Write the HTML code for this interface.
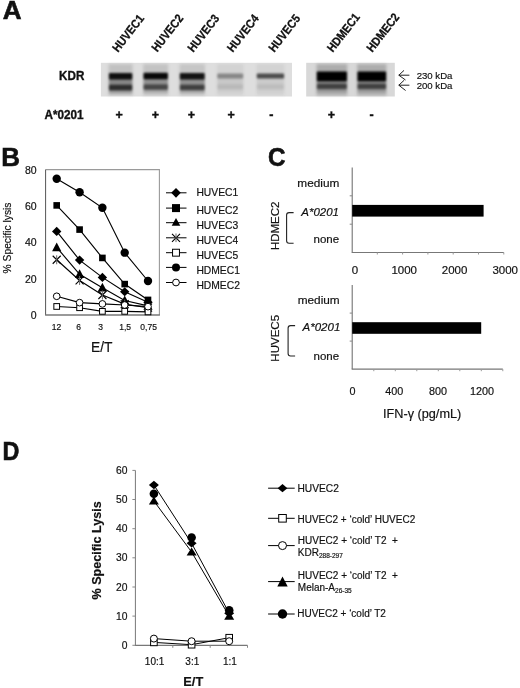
<!DOCTYPE html>
<html><head><meta charset="utf-8"><style>
html,body{margin:0;padding:0;background:#fff;width:520px;height:688px;overflow:hidden}
svg{display:block;filter:grayscale(100%)}
text{font-family:"Liberation Sans",sans-serif;fill:#111;stroke:#111;stroke-width:0.18px}
</style></head><body>
<svg width="520" height="688" viewBox="0 0 520 688">
<defs>
<filter id="bl" x="-5%" y="-10%" width="110%" height="120%"><feGaussianBlur stdDeviation="0.7"/></filter>
<filter id="bs" x="-20%" y="-20%" width="140%" height="140%"><feGaussianBlur stdDeviation="1.5"/></filter>
<filter id="bb" x="-20%" y="-80%" width="140%" height="260%"><feGaussianBlur stdDeviation="1.3 1.1"/></filter>
</defs>
<rect width="520" height="688" fill="#fff"/>
<text id="pA" x="2.8" y="18.75" font-size="26" font-weight="bold" style="stroke-width:0.6px">A</text>
<text id="pB" x="1.2" y="165.8" font-size="26" font-weight="bold" style="stroke-width:0.6px">B</text>
<text id="pC" x="267.9" y="165.5" font-size="26" font-weight="bold" textLength="17.5" lengthAdjust="spacingAndGlyphs" style="stroke-width:0.6px">C</text>
<text id="pD" x="2.6" y="459.9" font-size="26" font-weight="bold" textLength="16.9" lengthAdjust="spacingAndGlyphs" style="stroke-width:0.6px">D</text>
<text id="lHUVEC1" transform="translate(118.0,52.8) rotate(-52)" font-weight="bold" font-size="12" textLength="43.3" lengthAdjust="spacingAndGlyphs" style="stroke-width:0.3px">HUVEC1</text>
<text id="lHUVEC2" transform="translate(157.25,52.5) rotate(-52)" font-weight="bold" font-size="12" textLength="43.3" lengthAdjust="spacingAndGlyphs" style="stroke-width:0.3px">HUVEC2</text>
<text id="lHUVEC3" transform="translate(193.2,52.8) rotate(-52)" font-weight="bold" font-size="12" textLength="43.3" lengthAdjust="spacingAndGlyphs" style="stroke-width:0.3px">HUVEC3</text>
<text id="lHUVEC4" transform="translate(232.8,52.8) rotate(-52)" font-weight="bold" font-size="12" textLength="43.3" lengthAdjust="spacingAndGlyphs" style="stroke-width:0.3px">HUVEC4</text>
<text id="lHUVEC5" transform="translate(274.25,52.8) rotate(-52)" font-weight="bold" font-size="12" textLength="43.3" lengthAdjust="spacingAndGlyphs" style="stroke-width:0.3px">HUVEC5</text>
<text id="lHDMEC1" transform="translate(332.7,52.8) rotate(-52)" font-weight="bold" font-size="12" textLength="45" lengthAdjust="spacingAndGlyphs" style="stroke-width:0.3px">HDMEC1</text>
<text id="lHDMEC2" transform="translate(372.3,52.7) rotate(-52)" font-weight="bold" font-size="12" textLength="45" lengthAdjust="spacingAndGlyphs" style="stroke-width:0.3px">HDMEC2</text>
<text id="kdr" x="84.4" y="80" font-size="12.5" font-weight="bold" text-anchor="end" textLength="25.3" lengthAdjust="spacingAndGlyphs" style="stroke-width:0.35px">KDR</text>
<text id="a0201" x="83.6" y="118.65" font-size="12.5" font-weight="bold" text-anchor="end" textLength="39.2" lengthAdjust="spacingAndGlyphs" style="stroke-width:0.35px">A*0201</text>
<text id="pm0" x="119.2" y="119" font-weight="bold" font-size="12.5" text-anchor="middle" style="stroke-width:0.4px">+</text>
<text id="pm1" x="155.45" y="119" font-weight="bold" font-size="12.5" text-anchor="middle" style="stroke-width:0.4px">+</text>
<text id="pm2" x="191.5" y="119" font-weight="bold" font-size="12.5" text-anchor="middle" style="stroke-width:0.4px">+</text>
<text id="pm3" x="231.1" y="119" font-weight="bold" font-size="12.5" text-anchor="middle" style="stroke-width:0.4px">+</text>
<text id="pm4" x="271.3" y="119" font-weight="bold" font-size="12.5" text-anchor="middle" style="stroke-width:0.4px">-</text>
<text id="pm5" x="331.5" y="119" font-weight="bold" font-size="12.5" text-anchor="middle" style="stroke-width:0.4px">+</text>
<text id="pm6" x="371.5" y="119" font-weight="bold" font-size="12.5" text-anchor="middle" style="stroke-width:0.4px">-</text>
<g filter="url(#bl)">
<rect x="100.9" y="62.8" width="191.1" height="33.7" fill="#dedede"/>
<rect x="306.2" y="62.8" width="88.6" height="33.7" fill="#d8d8d8"/>
</g>
<g filter="url(#bs)">
<rect x="108.6" y="64" width="24.0" height="31.5" fill="#000" opacity="0.13"/>
<rect x="143.2" y="64" width="25.0" height="31.5" fill="#000" opacity="0.12"/>
<rect x="179.5" y="64" width="25.5" height="31.5" fill="#000" opacity="0.11"/>
<rect x="217.0" y="64" width="26.5" height="31.5" fill="#000" opacity="0.05"/>
<rect x="256.5" y="64" width="27.9" height="31.5" fill="#000" opacity="0.05"/>
<rect x="316.5" y="64" width="30.7" height="31.5" fill="#000" opacity="0.2"/>
<rect x="357.2" y="64" width="29.2" height="31.5" fill="#000" opacity="0.2"/>
</g>
<g filter="url(#bb)">
<rect x="108.89999999999999" y="73.0" width="23.4" height="6.6" rx="1" fill="#000" opacity="0.92"/>
<rect x="108.89999999999999" y="84.7" width="23.4" height="5.9" rx="1" fill="#000" opacity="0.76"/>
<rect x="108.89999999999999" y="79.1" width="23.4" height="6.1" fill="#000" opacity="0.30"/>
<rect x="108.89999999999999" y="90.1" width="23.4" height="3.5" fill="#000" opacity="0.17"/>
<rect x="143.5" y="72.8" width="24.4" height="6.4" rx="1" fill="#000" opacity="0.96"/>
<rect x="143.5" y="84.5" width="24.4" height="5.3" rx="1" fill="#000" opacity="0.64"/>
<rect x="143.5" y="78.7" width="24.4" height="6.3" fill="#000" opacity="0.26"/>
<rect x="143.5" y="89.3" width="24.4" height="3.5" fill="#000" opacity="0.14"/>
<rect x="179.8" y="73.0" width="24.9" height="6.4" rx="1" fill="#000" opacity="0.9"/>
<rect x="179.8" y="84.7" width="24.9" height="5.5" rx="1" fill="#000" opacity="0.68"/>
<rect x="179.8" y="78.9" width="24.9" height="6.3" fill="#000" opacity="0.27"/>
<rect x="179.8" y="89.7" width="24.9" height="3.5" fill="#000" opacity="0.15"/>
<rect x="217.3" y="73.4" width="25.9" height="5.0" rx="1" fill="#000" opacity="0.36"/>
<rect x="217.3" y="84.6" width="25.9" height="4.6" rx="1" fill="#000" opacity="0.12"/>
<rect x="217.3" y="77.9" width="25.9" height="7.2" fill="#000" opacity="0.05"/>
<rect x="217.3" y="88.7" width="25.9" height="3.5" fill="#000" opacity="0.03"/>
<rect x="256.8" y="73.4" width="27.3" height="5.0" rx="1" fill="#000" opacity="0.64"/>
<rect x="256.8" y="84.6" width="27.3" height="4.6" rx="1" fill="#000" opacity="0.1"/>
<rect x="256.8" y="77.9" width="27.3" height="7.2" fill="#000" opacity="0.04"/>
<rect x="256.8" y="88.7" width="27.3" height="3.5" fill="#000" opacity="0.02"/>
<rect x="316.8" y="71.5" width="30.1" height="9.7" rx="1" fill="#000" opacity="1.0"/>
<rect x="316.8" y="84.0" width="30.1" height="5.0" rx="1" fill="#000" opacity="0.62"/>
<rect x="316.8" y="80.7" width="30.1" height="3.8" fill="#000" opacity="0.25"/>
<rect x="316.8" y="88.5" width="30.1" height="3.5" fill="#000" opacity="0.14"/>
<rect x="357.5" y="71.5" width="28.6" height="9.7" rx="1" fill="#000" opacity="1.0"/>
<rect x="357.5" y="84.0" width="28.6" height="5.0" rx="1" fill="#000" opacity="0.62"/>
<rect x="357.5" y="80.7" width="28.6" height="3.8" fill="#000" opacity="0.25"/>
<rect x="357.5" y="88.5" width="28.6" height="3.5" fill="#000" opacity="0.14"/>
</g>
<path d="M404 70.4 L398.8 75.2 L405.5 80 M398.8 75.2 H409.4 M404.2 80.2 L398.8 85.2 L405.6 90.5 M398.8 85.2 H409.4" stroke="#222" stroke-width="1" fill="none"/>
<text id="kda1" x="416.7" y="78.6" font-size="9.6">230 kDa</text>
<text id="kda2" x="416.7" y="88.65" font-size="9.6">200 kDa</text>
<path d="M45.6 169.6 H159.4 V315" stroke="#9a9a9a" stroke-width="1.1" fill="none"/>
<path d="M45.6 169.6 V315" stroke="#555" stroke-width="1" fill="none"/>
<path d="M45.1 315 H159.9" stroke="#777" stroke-width="1.6" fill="none"/>
<text id="by0" x="36.6" y="319.1" font-size="10.5" text-anchor="end">0</text>
<text id="by20" x="36.6" y="282.75" font-size="10.5" text-anchor="end">20</text>
<text id="by40" x="36.6" y="246.4" font-size="10.5" text-anchor="end">40</text>
<text id="by60" x="36.6" y="210.05" font-size="10.5" text-anchor="end">60</text>
<text id="by80" x="36.6" y="173.7" font-size="10.5" text-anchor="end">80</text>
<text x="56.5" y="330" font-size="8.5" text-anchor="middle">12</text>
<text x="78.6" y="330" font-size="8.5" text-anchor="middle">6</text>
<text x="100.7" y="330" font-size="8.5" text-anchor="middle">3</text>
<text x="125.1" y="330" font-size="8.5" text-anchor="middle">1,5</text>
<text x="148.6" y="330" font-size="8.5" text-anchor="middle">0,75</text>
<text id="bylab" transform="translate(10.8,238) rotate(-90)" font-size="10.3" text-anchor="middle">% Specific lysis</text>
<text id="etB" x="101.7" y="352.3" font-size="13.8" text-anchor="middle">E/T</text>
<polyline points="56.7,231.4 79.6,260.1 102.4,277.4 124.7,291.7 148,302.3" fill="none" stroke="#000" stroke-width="1.15"/>
<polyline points="56.7,205.4 79.6,229.6 102.4,257.9 124.7,284.1 148,299.9" fill="none" stroke="#000" stroke-width="1.15"/>
<polyline points="56.7,247.4 79.6,274.3 102.4,287.7 124.7,300.5 148,305.9" fill="none" stroke="#000" stroke-width="1.15"/>
<polyline points="56.7,259.7 79.6,280.5 102.4,295.0 124.7,304.1 148,307.7" fill="none" stroke="#000" stroke-width="1.15"/>
<polyline points="56.7,306.5 79.6,307.7 102.4,311.4 124.7,311.4 148,311.9" fill="none" stroke="#000" stroke-width="1.15"/>
<polyline points="56.7,178.7 79.6,192.3 102.4,207.8 124.7,252.7 148,281.0" fill="none" stroke="#000" stroke-width="1.15"/>
<polyline points="56.7,296.3 79.6,302.6 102.4,303.9 124.7,305.0 148,306.6" fill="none" stroke="#000" stroke-width="1.15"/>
<path d="M56.70 226.79L61.40 231.39L56.70 235.99L52.00 231.39Z" fill="#000"/>
<path d="M79.60 255.51L84.30 260.11L79.60 264.71L74.90 260.11Z" fill="#000"/>
<path d="M102.40 272.78L107.10 277.38L102.40 281.98L97.70 277.38Z" fill="#000"/>
<path d="M124.70 287.14L129.40 291.74L124.70 296.34L120.00 291.74Z" fill="#000"/>
<path d="M148.00 297.68L152.70 302.28L148.00 306.88L143.30 302.28Z" fill="#000"/>
<rect x="53.40" y="202.10" width="6.60" height="6.60" fill="#000"/>
<rect x="76.30" y="226.28" width="6.60" height="6.60" fill="#000"/>
<rect x="99.10" y="254.63" width="6.60" height="6.60" fill="#000"/>
<rect x="121.40" y="280.80" width="6.60" height="6.60" fill="#000"/>
<rect x="144.70" y="296.61" width="6.60" height="6.60" fill="#000"/>
<path d="M56.70 242.39L61.30 251.14L52.10 251.14Z" fill="#000"/>
<path d="M79.60 269.29L84.20 278.04L75.00 278.04Z" fill="#000"/>
<path d="M102.40 282.74L107.00 291.49L97.80 291.49Z" fill="#000"/>
<path d="M124.70 295.46L129.30 304.21L120.10 304.21Z" fill="#000"/>
<path d="M148.00 300.91L152.60 309.66L143.40 309.66Z" fill="#000"/>
<path d="M52.70 255.75L60.70 263.75M60.70 255.75L52.70 263.75" stroke="#000" stroke-width="1.1"/><path d="M56.70 255.25V264.25" stroke="#666" stroke-width="1"/>
<path d="M75.60 276.47L83.60 284.47M83.60 276.47L75.60 284.47" stroke="#000" stroke-width="1.1"/><path d="M79.60 275.97V284.97" stroke="#666" stroke-width="1"/>
<path d="M98.40 291.01L106.40 299.01M106.40 291.01L98.40 299.01" stroke="#000" stroke-width="1.1"/><path d="M102.40 290.51V299.51" stroke="#666" stroke-width="1"/>
<path d="M120.70 300.10L128.70 308.10M128.70 300.10L120.70 308.10" stroke="#000" stroke-width="1.1"/><path d="M124.70 299.60V308.60" stroke="#666" stroke-width="1"/>
<path d="M144.00 303.73L152.00 311.73M152.00 303.73L144.00 311.73" stroke="#000" stroke-width="1.1"/><path d="M148.00 303.23V312.23" stroke="#666" stroke-width="1"/>
<rect x="53.85" y="303.61" width="5.70" height="5.70" fill="#fff" stroke="#000" stroke-width="1"/>
<rect x="76.75" y="304.88" width="5.70" height="5.70" fill="#fff" stroke="#000" stroke-width="1"/>
<rect x="99.55" y="308.51" width="5.70" height="5.70" fill="#fff" stroke="#000" stroke-width="1"/>
<rect x="121.85" y="308.51" width="5.70" height="5.70" fill="#fff" stroke="#000" stroke-width="1"/>
<rect x="145.15" y="309.06" width="5.70" height="5.70" fill="#fff" stroke="#000" stroke-width="1"/>
<circle cx="56.70" cy="178.69" r="4.20" fill="#000"/>
<circle cx="79.60" cy="192.32" r="4.20" fill="#000"/>
<circle cx="102.40" cy="207.77" r="4.20" fill="#000"/>
<circle cx="124.70" cy="252.66" r="4.20" fill="#000"/>
<circle cx="148.00" cy="281.01" r="4.20" fill="#000"/>
<circle cx="56.70" cy="296.28" r="3.35" fill="#fff" stroke="#000" stroke-width="1"/>
<circle cx="79.60" cy="302.64" r="3.35" fill="#fff" stroke="#000" stroke-width="1"/>
<circle cx="102.40" cy="303.91" r="3.35" fill="#fff" stroke="#000" stroke-width="1"/>
<circle cx="124.70" cy="305.00" r="3.35" fill="#fff" stroke="#000" stroke-width="1"/>
<circle cx="148.00" cy="306.64" r="3.35" fill="#fff" stroke="#000" stroke-width="1"/>
<path d="M166 192.8H186.5" stroke="#000" stroke-width="1"/>
<path d="M176.00 187.90L180.80 192.80L176.00 197.70L171.20 192.80Z" fill="#000"/>
<text id="lbHUVEC1" x="196.4" y="195.9" font-size="10.3">HUVEC1</text>
<path d="M166 208.1H186.5" stroke="#000" stroke-width="1"/>
<rect x="172.00" y="204.10" width="8.00" height="8.00" fill="#000"/>
<text id="lbHUVEC2" x="196.4" y="214.3" font-size="10.3">HUVEC2</text>
<path d="M166 222.7H186.5" stroke="#000" stroke-width="1"/>
<path d="M176.00 218.10L180.30 225.80L171.70 225.80Z" fill="#000"/>
<text id="lbHUVEC3" x="196.4" y="229.3" font-size="10.3">HUVEC3</text>
<path d="M166 237.8H186.5" stroke="#000" stroke-width="1"/>
<path d="M172.00 233.80L180.00 241.80M180.00 233.80L172.00 241.80" stroke="#000" stroke-width="1.1"/><path d="M176.00 233.50V242.10" stroke="#666" stroke-width="1"/>
<text id="lbHUVEC4" x="196.4" y="244.4" font-size="10.3">HUVEC4</text>
<path d="M166 252.7H186.5" stroke="#000" stroke-width="1"/>
<rect x="172.55" y="249.25" width="6.90" height="6.90" fill="#fff" stroke="#000" stroke-width="1"/>
<text id="lbHUVEC5" x="196.4" y="259.3" font-size="10.3">HUVEC5</text>
<path d="M166 267.4H186.5" stroke="#000" stroke-width="1"/>
<circle cx="176.00" cy="267.40" r="4.00" fill="#000"/>
<text id="lbHDMEC1" x="196.4" y="274.3" font-size="10.3">HDMEC1</text>
<path d="M166 282.5H186.5" stroke="#000" stroke-width="1"/>
<circle cx="176.00" cy="282.50" r="3.40" fill="#fff" stroke="#000" stroke-width="1"/>
<text id="lbHDMEC2" x="196.4" y="289" font-size="10.3">HDMEC2</text>
<path d="M352.2 167.5 V252.5" stroke="#666" stroke-width="1" fill="none"/>
<path d="M351.7 252.5 H503.8" stroke="#777" stroke-width="1.2" fill="none"/>
<path d="M349.7 195.8 H352.2" stroke="#888" stroke-width="1"/>
<path d="M349.7 224.2 H352.2" stroke="#888" stroke-width="1"/>
<path d="M377.3 252.5 V254.5" stroke="#999" stroke-width="1"/>
<path d="M402.6 252.5 V254.5" stroke="#999" stroke-width="1"/>
<path d="M427.9 252.5 V254.5" stroke="#999" stroke-width="1"/>
<path d="M453.2 252.5 V254.5" stroke="#999" stroke-width="1"/>
<path d="M478.5 252.5 V254.5" stroke="#999" stroke-width="1"/>
<path d="M503.8 252.5 V254.5" stroke="#999" stroke-width="1"/>
<text id="c1x0" x="355" y="273.9" font-size="11.5" text-anchor="middle">0</text>
<text id="c1x1000" x="404.2" y="273.9" font-size="11.5" text-anchor="middle">1000</text>
<text id="c1x2000" x="454.6" y="273.9" font-size="11.5" text-anchor="middle">2000</text>
<text id="c1x3000" x="505.2" y="273.9" font-size="11.5" text-anchor="middle">3000</text>
<text id="c1med" x="339.3" y="186.8" font-size="11.5" text-anchor="end" textLength="42" lengthAdjust="spacingAndGlyphs">medium</text>
<text id="c1a02" x="339.0" y="215.8" font-size="11.5" text-anchor="end" font-style="italic">A*0201</text>
<text id="c1none" x="339.09999999999997" y="242.7" font-size="11.5" text-anchor="end">none</text>
<rect x="352.2" y="204.9" width="131.4" height="11.7" fill="#000"/>
<path d="M293.6 212.6 H289.1 Q286.6 212.6 286.6 215.1 V240.7 Q286.6 243.2 289.1 243.2 H293.6" stroke="#222" stroke-width="1.1" fill="none"/>
<text id="c1yl" transform="translate(278.8,225.8) rotate(-90)" font-size="11.5" text-anchor="middle">HDMEC2</text>
<path d="M352.2 285 V369.2" stroke="#666" stroke-width="1" fill="none"/>
<path d="M351.7 369.2 H502.8" stroke="#777" stroke-width="1.2" fill="none"/>
<path d="M349.7 313.1 H352.2" stroke="#888" stroke-width="1"/>
<path d="M349.7 341.1 H352.2" stroke="#888" stroke-width="1"/>
<path d="M373.8 369.2 V371.2" stroke="#999" stroke-width="1"/>
<path d="M395.3 369.2 V371.2" stroke="#999" stroke-width="1"/>
<path d="M416.8 369.2 V371.2" stroke="#999" stroke-width="1"/>
<path d="M438.3 369.2 V371.2" stroke="#999" stroke-width="1"/>
<path d="M459.8 369.2 V371.2" stroke="#999" stroke-width="1"/>
<path d="M481.3 369.2 V371.2" stroke="#999" stroke-width="1"/>
<path d="M502.8 369.2 V371.2" stroke="#999" stroke-width="1"/>
<text id="c2x0" x="352.4" y="395" font-size="10.8" text-anchor="middle">0</text>
<text id="c2x400" x="394.2" y="395" font-size="10.8" text-anchor="middle">400</text>
<text id="c2x800" x="438" y="395" font-size="10.8" text-anchor="middle">800</text>
<text id="c2x1200" x="482" y="395" font-size="10.8" text-anchor="middle">1200</text>
<text id="c2med" x="339.70000000000005" y="303.8" font-size="11.5" text-anchor="end" textLength="42" lengthAdjust="spacingAndGlyphs">medium</text>
<text id="c2a02" x="340.3" y="331.4" font-size="11.5" text-anchor="end" font-style="italic">A*0201</text>
<text id="c2none" x="339.09999999999997" y="360.4" font-size="11.5" text-anchor="end">none</text>
<rect x="352.2" y="322.2" width="129.0" height="11.6" fill="#000"/>
<path d="M295.1 325.6 H290.6 Q288.1 325.6 288.1 328.1 V353.5 Q288.1 356 290.6 356 H295.1" stroke="#222" stroke-width="1.1" fill="none"/>
<text id="c2yl" transform="translate(278.8,338.3) rotate(-90)" font-size="11.5" text-anchor="middle">HUVEC5</text>
<text id="ifn" x="383.0" y="417.7" font-size="12.7">IFN-γ (pg/mL)</text>
<path d="M135.4 470.4 V645.3" stroke="#777" stroke-width="1" fill="none"/>
<path d="M134.9 645.3 H247.5" stroke="#777" stroke-width="1.2" fill="none"/>
<path d="M132.4 645.3 H135.4" stroke="#888" stroke-width="1"/>
<text id="dy0" x="127.5" y="648.9" font-size="10.3" text-anchor="end">0</text>
<path d="M132.4 616.1 H135.4" stroke="#888" stroke-width="1"/>
<text id="dy10" x="127.5" y="619.75" font-size="10.3" text-anchor="end">10</text>
<path d="M132.4 587.0 H135.4" stroke="#888" stroke-width="1"/>
<text id="dy20" x="127.5" y="590.6" font-size="10.3" text-anchor="end">20</text>
<path d="M132.4 557.8 H135.4" stroke="#888" stroke-width="1"/>
<text id="dy30" x="127.5" y="561.45" font-size="10.3" text-anchor="end">30</text>
<path d="M132.4 528.7 H135.4" stroke="#888" stroke-width="1"/>
<text id="dy40" x="127.5" y="532.3" font-size="10.3" text-anchor="end">40</text>
<path d="M132.4 499.5 H135.4" stroke="#888" stroke-width="1"/>
<text id="dy50" x="127.5" y="503.15" font-size="10.3" text-anchor="end">50</text>
<path d="M132.4 470.4 H135.4" stroke="#888" stroke-width="1"/>
<text id="dy60" x="127.5" y="474.0" font-size="10.3" text-anchor="end">60</text>
<path d="M172.8 645.3 V647.8" stroke="#888" stroke-width="1"/>
<path d="M210.2 645.3 V647.8" stroke="#888" stroke-width="1"/>
<path d="M247.5 645.3 V647.8" stroke="#888" stroke-width="1"/>
<text id="dx10:1" x="154.6" y="664.9" font-size="10" text-anchor="middle">10:1</text>
<text id="dx3:1" x="192.3" y="664.9" font-size="10" text-anchor="middle">3:1</text>
<text id="dx1:1" x="229.9" y="664.9" font-size="10" text-anchor="middle">1:1</text>
<text id="etD" x="193.3" y="686.1" font-size="12.8" font-weight="bold" text-anchor="middle">E/T</text>
<text id="dylab" transform="translate(100.8,550.4) rotate(-90)" font-weight="bold" font-size="12.6" text-anchor="middle">% Specific Lysis</text>
<polyline points="153.9,485.0 191.6,543.3 229.2,613.2" fill="none" stroke="#000" stroke-width="1"/>
<polyline points="153.9,642.4 191.6,644.7 229.2,637.7" fill="none" stroke="#000" stroke-width="1"/>
<polyline points="153.9,638.6 191.6,641.2 229.2,641.2" fill="none" stroke="#000" stroke-width="1"/>
<polyline points="153.9,501.0 191.6,552.0 229.2,616.1" fill="none" stroke="#000" stroke-width="1"/>
<path d="M153.90 480.68L158.90 484.98L153.90 489.28L148.90 484.98Z" fill="#000"/>
<path d="M191.60 538.98L196.60 543.27L191.60 547.57L186.60 543.27Z" fill="#000"/>
<path d="M229.20 608.94L234.20 613.24L229.20 617.53L224.20 613.24Z" fill="#000"/>
<rect x="150.60" y="639.09" width="6.60" height="6.60" fill="#fff" stroke="#000" stroke-width="1"/>
<rect x="188.30" y="641.42" width="6.60" height="6.60" fill="#fff" stroke="#000" stroke-width="1"/>
<rect x="225.90" y="634.42" width="6.60" height="6.60" fill="#fff" stroke="#000" stroke-width="1"/>
<circle cx="153.90" cy="638.60" r="3.50" fill="#fff" stroke="#000" stroke-width="1"/>
<circle cx="191.60" cy="641.22" r="3.50" fill="#fff" stroke="#000" stroke-width="1"/>
<circle cx="229.20" cy="641.22" r="3.50" fill="#fff" stroke="#000" stroke-width="1"/>
<path d="M153.90 496.41L158.90 504.51L148.90 504.51Z" fill="#000"/>
<path d="M191.60 547.42L196.60 555.52L186.60 555.52Z" fill="#000"/>
<path d="M229.20 611.55L234.20 619.65L224.20 619.65Z" fill="#000"/>
<circle cx="153.90" cy="493.72" r="4.30" fill="#000"/>
<circle cx="191.60" cy="537.44" r="4.30" fill="#000"/>
<circle cx="229.20" cy="610.32" r="4.30" fill="#000"/>
<path d="M268.1 488.2H294.7" stroke="#000" stroke-width="1"/>
<path d="M282.50 484.10L287.40 488.20L282.50 492.30L277.60 488.20Z" fill="#000"/>
<text id="ld1" x="297.5" y="491.75" font-size="10.2">HUVEC2</text>
<path d="M268.1 518.3H294.7" stroke="#000" stroke-width="1"/>
<rect x="278.70" y="514.50" width="7.60" height="7.60" fill="#fff" stroke="#000" stroke-width="1"/>
<text id="ld2" x="297.5" y="523" font-size="10">HUVEC2 + ‘cold’ HUVEC2</text>
<path d="M268.1 545.6H294.7" stroke="#000" stroke-width="1"/>
<circle cx="282.50" cy="545.60" r="4.00" fill="#fff" stroke="#000" stroke-width="1"/>
<text id="ld3" x="297.8" y="543.85" font-size="10">HUVEC2 + ‘cold’ T2 &#160;+</text>
<text x="297.8" y="555.6" font-size="10">KDR<tspan font-size="6.5" dy="2.4">288-297</tspan></text>
<path d="M268.1 581.6H294.7" stroke="#000" stroke-width="1"/>
<path d="M282.50 576.60L287.70 586.40L277.30 586.40Z" fill="#000"/>
<text id="ld4" x="297.8" y="578.5" font-size="10">HUVEC2 + ‘cold’ T2 &#160;+</text>
<text x="297.8" y="590.6" font-size="10">Melan-A<tspan font-size="6.5" dy="2.4">26-35</tspan></text>
<path d="M268.1 614H294.7" stroke="#000" stroke-width="1"/>
<circle cx="282.50" cy="614.00" r="4.70" fill="#000"/>
<text id="ld5" x="297.2" y="616.7" font-size="10">HUVEC2 + ‘cold’ T2</text>
</svg>
</body></html>
